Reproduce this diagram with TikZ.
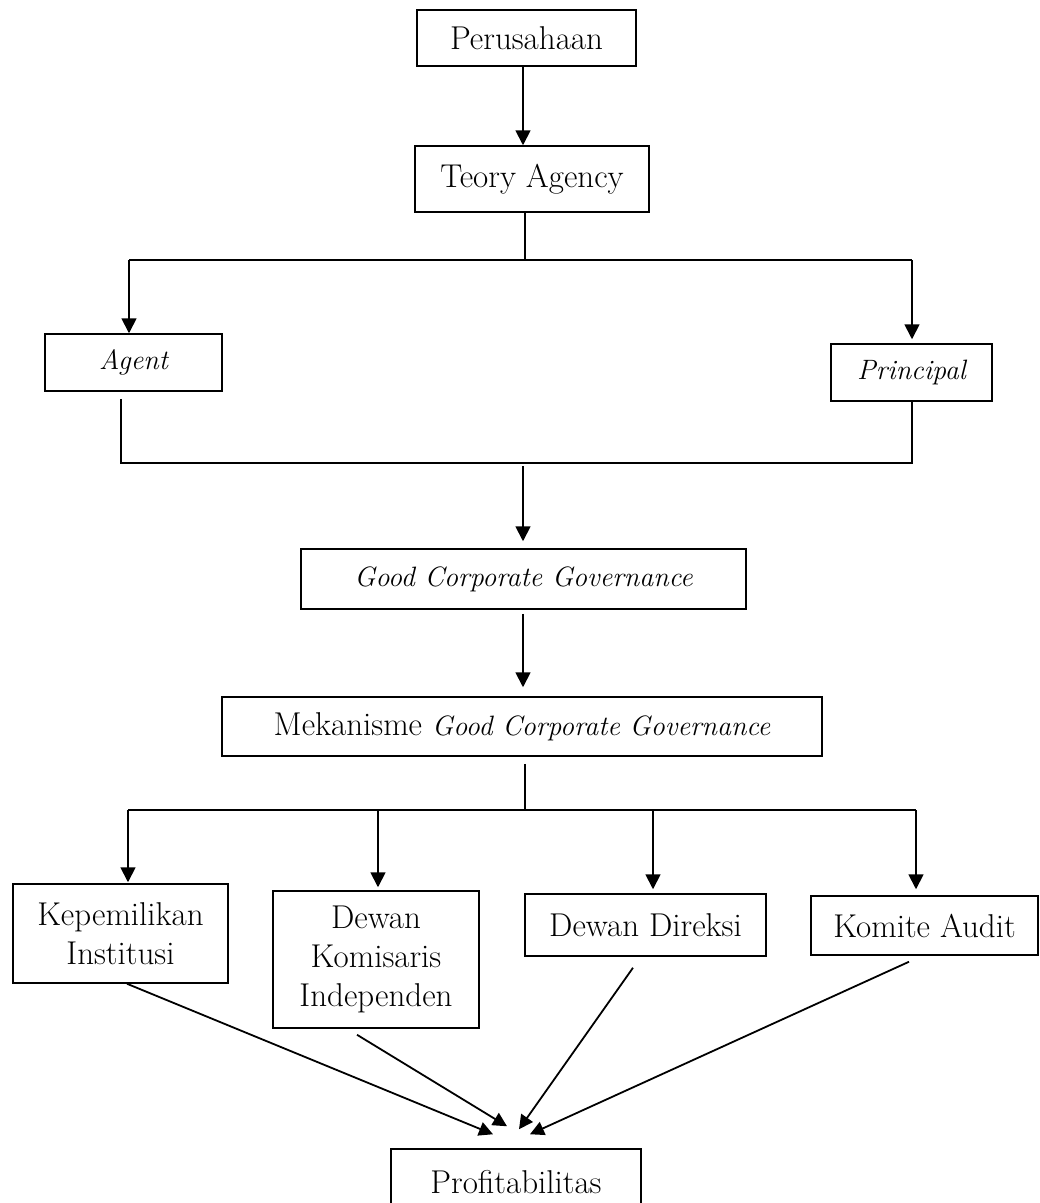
\documentclass[tikz,border=0pt]{standalone}
\usetikzlibrary{arrows.meta}
\newcommand\myit[1]{{\fontsize{28}{39}\selectfont\itshape #1}}
\begin{document}
\begin{tikzpicture}[x=1pt,y=-1pt,
  box/.style={draw,line width=1.5pt,inner sep=0pt,align=center,
    font=\fontsize{33}{39}\selectfont},
  conn/.style={line width=1.8pt},
  arr/.style={conn,-{Triangle[length=15pt,width=15pt]}},
  darr/.style={conn,-{Triangle[length=14pt,width=14pt]}}]
\useasboundingbox (0,0) rectangle (1040,1203);
% boxes
\node[box,minimum width=219pt,minimum height=56pt] (per) at (526.5,38) {Perusahaan};
\node[box,minimum width=234pt,minimum height=66pt] (teo) at (532,179) {Teory Agency};
\node[box,minimum width=177pt,minimum height=57pt] (agent) at (133.5,362.5) {\myit{Agent}};
\node[box,minimum width=161pt,minimum height=57pt] (princ) at (911.5,372.5) {\myit{Principal}};
\node[box,minimum width=445pt,minimum height=60pt] (gcg) at (523.5,579) {\myit{Good Corporate Governance}};
\node[box,minimum width=600pt,minimum height=59pt] (mek) at (522,726.5) {Mekanisme \myit{Good Corporate Governance}};
\node[box,minimum width=215pt,minimum height=99pt] (kep) at (120.5,933.5) {Kepemilikan\\Institusi};
\node[box,minimum width=206pt,minimum height=137pt] (dk) at (376,959.5) {Dewan\\Komisaris\\Independen};
\node[box,minimum width=241pt,minimum height=62pt] (dd) at (645.5,925) {Dewan Direksi};
\node[box,minimum width=227pt,minimum height=59pt] (ka) at (924.5,925.5) {Komite Audit};
\node[box,minimum width=250pt,minimum height=66pt] (prof) at (516,1182) {Profitabilitas};
% junction coordinates
\coordinate (c1) at (523,0);
\coordinate (c2) at (525,0);
\coordinate (tbL) at (129,260);
\coordinate (tbR) at (912,260);
\coordinate (bbL) at (121,463);
\coordinate (bbR) at (912,463);
\coordinate (mbL) at (128,810);
\coordinate (mbR) at (916,810);
\coordinate (a2) at (378,810);
\coordinate (a3) at (653,810);
% top part
\draw[arr] (per.south -| c1) -- (teo.north -| c1);
\draw[conn] (teo.south -| c2) -- (tbL -| c2);
\draw[conn] (tbL) -- (tbR);
\draw[arr] (tbL) -- (agent.north -| tbL);
\draw[arr] (tbR) -- ([yshift=4pt]princ.north -| tbR);
\draw[conn] ([yshift=-7pt]agent.south -| bbL) -- (bbL) -- (bbR) -- (princ.south -| bbR);
\draw[arr] ([yshift=-3pt]bbL -| c1) -- ([yshift=7pt]gcg.north -| c1);
\draw[arr] ([yshift=-4pt]gcg.south -| c1) -- ([yshift=9pt]mek.north -| c1);
% branch to mechanisms
\draw[conn] ([yshift=-7pt]mek.south -| c2) -- (mbL -| c2);
\draw[conn] (mbL) -- (mbR);
\draw[arr] (mbL) -- ([yshift=1pt]kep.north -| mbL);
\draw[arr] (a2) -- ([yshift=3pt]dk.north -| a2);
\draw[arr] (a3) -- ([yshift=4pt]dd.north -| a3);
\draw[arr] (mbR) -- ([yshift=6pt]ka.north -| mbR);
% to profitability
\draw[darr] ([xshift=6.5pt]kep.south) -- ([xshift=-23pt,yshift=14pt]prof.north);
\draw[darr] ([xshift=-19pt,yshift=-6pt]dk.south) -- ([xshift=-9pt,yshift=22pt]prof.north);
\draw[darr] ([xshift=-12.5pt,yshift=-11pt]dd.south) -- ([xshift=3pt,yshift=19pt]prof.north);
\draw[darr] ([xshift=-15.5pt,yshift=-6pt]ka.south) -- ([xshift=14pt,yshift=14pt]prof.north);
\end{tikzpicture}
\end{document}
